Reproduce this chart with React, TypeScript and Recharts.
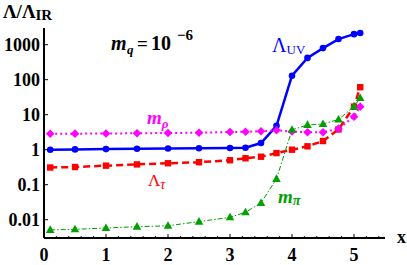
import { LineChart, Line, XAxis, YAxis } from 'recharts';

// x positions shared by all four curves
const xs = [0.1, 0.5, 1, 1.5, 2, 2.5, 3, 3.25, 3.5, 3.75, 4, 4.25, 4.5, 4.75, 5, 5.1];

const lambdaUV = [1.0, 1.02, 1.04, 1.06, 1.08, 1.1, 1.12, 1.14, 1.55, 4.8, 130, 420, 800, 1450, 2000, 2150];
const lambdaTau = [0.31, 0.32, 0.35, 0.38, 0.41, 0.44, 0.5, 0.57, 0.63, 0.8, 1.0, 1.25, 1.77, 3.8, 17, 61];
const mRho = [2.85, 2.87, 2.9, 2.95, 3.0, 3.05, 3.2, 3.25, 3.35, 3.6, 3.3, 3.15, 3.15, 4.0, 8.8, 17];
const mPi = [0.0051, 0.0053, 0.0058, 0.0063, 0.0067, 0.0088, 0.0117, 0.0163, 0.03, 0.146, 3.7, 5.1, 5.4, 7.3, 17, 30];

const xTicks = [0, 0.2, 0.4, 0.6, 0.8, 1, 1.2, 1.4, 1.6, 1.8, 2, 2.2, 2.4, 2.6, 2.8, 3, 3.2, 3.4, 3.6, 3.8, 4, 4.2, 4.4, 4.6, 4.8, 5, 5.2, 5.4];
const yTicks = [0.01, 0.1, 1, 10, 100, 1000];
const yTickLabels = ['0.01', '0.1', '1', '10', '100', '1000'];

const data = xs.map((x, i) => ({
  x,
  uv: lambdaUV[i],
  tau: lambdaTau[i],
  rho: mRho[i],
  pi: mPi[i],
}));

const FONT = '"Liberation Serif", "DejaVu Serif", serif';
const BLUE = '#0000ff';
const RED = '#ff0000';
const MAGENTA = '#ff00ff';
const GREEN = '#00a000';

const XTick = ({ x, y, payload }: any) => {
  const v = payload.value;
  const major = Math.abs(v - Math.round(v)) < 1e-6;
  return (
    <g>
      <line x1={x} y1={y} x2={x} y2={y - (major ? 4 : 2)} stroke="#000" strokeWidth={1} />
      {major && (
        <text x={x} y={y + 23} textAnchor="middle" fontFamily={FONT} fontWeight="bold" fontSize={18} fill="#000">
          {Math.round(v)}
        </text>
      )}
    </g>
  );
};

const YTick = ({ x, y, payload, index }: any) => (
  <g>
    <line x1={x} y1={y} x2={x + 4} y2={y} stroke="#000" strokeWidth={1} />
    <text x={x - 4} y={y + 6} textAnchor="end" fontFamily={FONT} fontWeight="bold" fontSize={18} fill="#000">
      {yTickLabels[index] ?? payload.value}
    </text>
  </g>
);

const circleDot = (p: any) => <circle key={`c-${p.index}`} cx={p.cx} cy={p.cy} r={3.3} fill={BLUE} />;
const squareDot = (p: any) => (
  <rect key={`s-${p.index}`} x={p.cx - 3.2} y={p.cy - 3.2} width={6.4} height={6.4} fill={RED} />
);
const diamondDot = (p: any) => (
  <polygon
    key={`d-${p.index}`}
    points={`${p.cx},${p.cy - 4.3} ${p.cx + 4.3},${p.cy} ${p.cx},${p.cy + 4.3} ${p.cx - 4.3},${p.cy}`}
    fill={MAGENTA}
  />
);
const triangleDot = (p: any) => (
  <polygon
    key={`t-${p.index}`}
    points={`${p.cx},${p.cy - 4.6} ${p.cx + 4.3},${p.cy + 3} ${p.cx - 4.3},${p.cy + 3}`}
    fill={GREEN}
  />
);

export default function App() {
  return (
    <div style={{ position: 'absolute', left: 0, top: 0, width: 407, height: 265, background: '#fff' }}>
      <LineChart width={407} height={265} data={data} margin={{ top: 28, right: 22, bottom: 0, left: 0 }}>
        <XAxis
          type="number"
          dataKey="x"
          domain={[0, 5.5]}
          ticks={xTicks}
          interval={0}
          allowDataOverflow
          height={27}
          tickSize={0}
          tickMargin={0}
          tick={XTick}
          axisLine={{ stroke: '#000', strokeWidth: 2 }}
        />
        <YAxis
          scale="log"
          domain={[0.003, 3000]}
          ticks={yTicks}
          interval={0}
          allowDataOverflow
          width={44}
          tickSize={0}
          tickMargin={0}
          tick={YTick}
          axisLine={{ stroke: '#000', strokeWidth: 2 }}
        />
        <Line dataKey="uv" stroke={BLUE} strokeWidth={2.5} dot={circleDot} isAnimationActive={false} />
        <Line dataKey="tau" stroke={RED} strokeWidth={2.5} strokeDasharray="7 4" dot={squareDot} isAnimationActive={false} />
        <Line dataKey="rho" stroke={MAGENTA} strokeWidth={2} strokeDasharray="2 3" dot={diamondDot} isAnimationActive={false} />
        <Line dataKey="pi" stroke={GREEN} strokeWidth={1} strokeDasharray="5 2 1.5 2" dot={triangleDot} isAnimationActive={false} />
      </LineChart>
      <svg width={407} height={265} style={{ position: 'absolute', left: 0, top: 0, pointerEvents: 'none' }}>
        <text x={3} y={18} fontFamily={FONT} fontWeight="bold" fontSize={19} fill="#000">
          Λ/Λ<tspan fontSize={15} dy={2}>IR</tspan>
        </text>
        <g fontFamily={FONT} fontWeight="bold" fill="#000">
          <text x={111} y={50} fontSize={20} fontStyle="italic">m</text>
          <text x={127} y={54} fontSize={13} fontStyle="italic">q</text>
          <text x={137} y={50} fontSize={19}>=</text>
          <text x={151} y={50} fontSize={20}>10</text>
          <text x={177} y={40} fontSize={15}>−6</text>
        </g>
        <text x={272} y={52} fontFamily={FONT} fontSize={20} fill={BLUE}>
          Λ<tspan fontSize={13} dy={2}>UV</tspan>
        </text>
        <text x={147} y={124} fontFamily={FONT} fontWeight="bold" fontStyle="italic" fontSize={19} fill={MAGENTA}>
          m<tspan fontSize={13} dy={4}>ρ</tspan>
        </text>
        <text x={148} y={186} fontFamily={FONT} fontSize={17} fill={RED}>
          Λ<tspan fontSize={14} fontStyle="italic" dy={3}>τ</tspan>
        </text>
        <text x={278} y={203} fontFamily={FONT} fontWeight="bold" fontStyle="italic" fontSize={19} fill={GREEN}>
          m<tspan fontSize={14} dy={2}>π</tspan>
        </text>
        <text x={397} y={243} fontFamily={FONT} fontWeight="bold" fontSize={18} fill="#000">x</text>
      </svg>
    </div>
  );
}
